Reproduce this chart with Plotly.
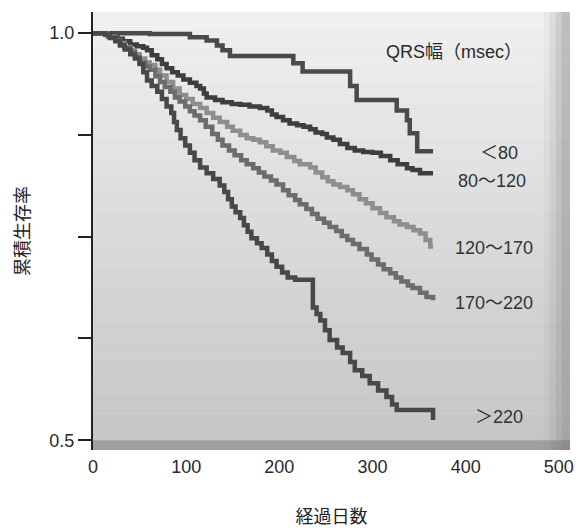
import plotly.graph_objects as go

# Kaplan-Meier step data (days, cumulative survival)
days_lt80 = [0, 61, 104, 122, 133, 139, 147, 215, 225, 276, 283, 326, 337, 340, 348, 365]
surv_lt80 = [1.0, 0.999, 0.995, 0.991, 0.985, 0.979, 0.972, 0.963, 0.953, 0.935, 0.918, 0.905, 0.893, 0.877, 0.855, 0.855]

days_80_120 = [0, 18, 26, 32, 40, 47, 54, 58, 63, 69, 74, 79, 85, 91, 97, 104, 111, 115, 119, 122, 131, 139, 149, 158, 168,
               179, 187, 192, 197, 204, 211, 219, 226, 233, 239, 246, 251, 258, 265, 273, 281, 290, 300, 309, 319, 327,
               337, 343, 351, 365]
surv_80_120 = [1.0, 0.996, 0.993, 0.990, 0.986, 0.984, 0.982, 0.979, 0.973, 0.968, 0.962, 0.957, 0.952, 0.948, 0.943,
               0.939, 0.935, 0.932, 0.926, 0.921, 0.918, 0.915, 0.913, 0.912, 0.910, 0.908, 0.905, 0.900, 0.897, 0.893,
               0.889, 0.887, 0.885, 0.882, 0.878, 0.876, 0.872, 0.869, 0.864, 0.859, 0.856, 0.854, 0.853, 0.849, 0.844,
               0.839, 0.834, 0.832, 0.828, 0.828]

days_120_170 = [0, 16, 24, 29, 34, 40, 45, 50, 56, 61, 67, 72, 79, 86, 93, 100, 107, 115, 122, 129, 136, 144, 150, 158,
                165, 172, 179, 186, 193, 201, 208, 216, 222, 233, 239, 246, 252, 258, 265, 273, 279, 286, 293, 300, 308,
                315, 323, 329, 337, 344, 351, 357, 362, 365]
surv_120_170 = [1.0, 0.996, 0.991, 0.988, 0.983, 0.979, 0.974, 0.969, 0.964, 0.961, 0.955, 0.948, 0.940, 0.932, 0.924,
                0.919, 0.913, 0.908, 0.902, 0.896, 0.891, 0.885, 0.880, 0.875, 0.871, 0.869, 0.866, 0.861, 0.856, 0.853,
                0.848, 0.843, 0.839, 0.835, 0.829, 0.823, 0.818, 0.814, 0.811, 0.807, 0.802, 0.796, 0.791, 0.785, 0.779,
                0.774, 0.769, 0.765, 0.762, 0.758, 0.754, 0.746, 0.738, 0.738]

days_170_220 = [0, 16, 24, 29, 34, 40, 45, 50, 56, 61, 67, 72, 77, 83, 88, 93, 99, 104, 109, 115, 121, 128, 134, 139,
                146, 152, 159, 165, 172, 178, 184, 191, 197, 204, 210, 217, 222, 229, 235, 241, 248, 254, 261, 267, 273,
                279, 286, 294, 299, 306, 312, 319, 325, 331, 338, 343, 351, 358, 365]
surv_170_220 = [1.0, 0.996, 0.991, 0.986, 0.982, 0.977, 0.971, 0.964, 0.959, 0.955, 0.947, 0.940, 0.934, 0.928, 0.921,
                0.916, 0.910, 0.904, 0.899, 0.893, 0.885, 0.876, 0.869, 0.862, 0.856, 0.850, 0.844, 0.839, 0.834, 0.829,
                0.824, 0.819, 0.814, 0.807, 0.801, 0.795, 0.790, 0.784, 0.778, 0.772, 0.767, 0.762, 0.757, 0.751, 0.746,
                0.741, 0.735, 0.728, 0.722, 0.716, 0.710, 0.705, 0.700, 0.695, 0.690, 0.687, 0.681, 0.676, 0.672]

days_gt220 = [0, 13, 18, 24, 29, 34, 40, 45, 50, 54, 58, 63, 69, 74, 79, 84, 87, 90, 94, 99, 104, 109, 115, 122, 129,
              136, 141, 145, 149, 153, 158, 162, 166, 170, 176, 181, 187, 192, 197, 203, 209, 217, 236, 240, 244, 249,
              254, 262, 268, 276, 281, 289, 297, 306, 315, 321, 326, 365]
surv_gt220 = [1.0, 0.998, 0.994, 0.990, 0.985, 0.980, 0.974, 0.969, 0.962, 0.952, 0.942, 0.935, 0.928, 0.919, 0.910,
              0.902, 0.891, 0.881, 0.871, 0.862, 0.853, 0.844, 0.835, 0.828, 0.821, 0.813, 0.805, 0.796, 0.787, 0.780,
              0.773, 0.764, 0.756, 0.748, 0.742, 0.736, 0.728, 0.720, 0.713, 0.706, 0.700, 0.697, 0.663, 0.655, 0.647,
              0.635, 0.623, 0.614, 0.607, 0.596, 0.586, 0.579, 0.570, 0.561, 0.553, 0.544, 0.537, 0.525]

group_labels = ["＜80", "80〜120", "120〜170", "170〜220", "＞220"]
label_days = [413, 390, 386, 386, 408]
label_surv = [0.853, 0.819, 0.736, 0.668, 0.529]
legend_title = "QRS幅（msec）"

x_ticks = [0, 100, 200, 300, 400, 500]
y_ticks = [0.5, 0.625, 0.75, 0.875, 1.0]
y_ticktext = ["0.5", "", "", "", "1.0"]

series = [
    (days_lt80, surv_lt80, "#4a4a4a"),
    (days_80_120, surv_80_120, "#3e3e3e"),
    (days_120_170, surv_120_170, "#8e8e8e"),
    (days_170_220, surv_170_220, "#6c6c6c"),
    (days_gt220, surv_gt220, "#484848"),
]

fig = go.Figure()
for (d, s, c), name in zip(series, group_labels):
    fig.add_trace(go.Scatter(x=d, y=s, mode="lines", line=dict(shape="hv", color=c, width=4.5),
                             name=name, showlegend=False))

# gray gradient background of the plot area
shapes = []
n = 24
for i in range(n):
    t = i / (n - 1)
    g = int(240 - t * 42)
    shapes.append(dict(type="rect", xref="x domain", yref="y domain",
                       x0=0, x1=1, y0=1 - (i + 1) / n, y1=1 - i / n,
                       fillcolor=f"rgb({g},{g},{g})", line=dict(width=0), layer="below"))
# darker dithered right and bottom edges
for k, a in enumerate([0.12, 0.2, 0.28, 0.36]):
    shapes.append(dict(type="rect", xref="x domain", yref="y domain", x0=0.945 + k * 0.0125, x1=1,
                       y0=0, y1=1, fillcolor=f"rgba(120,120,120,{a/2})", line=dict(width=0), layer="below"))
shapes.append(dict(type="rect", xref="x domain", yref="y domain", x0=0, x1=1, y0=0, y1=0.022,
                   fillcolor="rgba(110,110,110,0.45)", line=dict(width=0), layer="below"))

num_font = "Liberation Sans, Arial, Noto Sans CJK JP, sans-serif"
cjk_font = "Noto Sans CJK JP, sans-serif"

annotations = [dict(x=388, y=0.977, xref="x", yref="y", text=legend_title, showarrow=False,
                    xanchor="center", yanchor="middle", font=dict(size=18, color="#2a2a2a", family=num_font))]
for lab, xd, ys in zip(group_labels, label_days, label_surv):
    annotations.append(dict(x=xd, y=ys, xref="x", yref="y", text=lab, showarrow=False,
                            xanchor="left", yanchor="middle",
                            font=dict(size=18, color="#333333", family=num_font)))

# the page body has an 8px default margin, so the figure is sized/offset to compensate
fig.update_layout(
    width=574, height=520,
    margin=dict(l=85, r=12, t=4, b=78),
    paper_bgcolor="white", plot_bgcolor="#dddddd",
    font=dict(family=num_font, color="#222222"),
    shapes=shapes, annotations=annotations,
    xaxis=dict(range=[0, 512], tickvals=x_ticks, ticks="", showline=False, showgrid=False,
               zeroline=False, automargin=False, ticklabelstandoff=4,
               tickfont=dict(size=18, color="#2a2a2a"),
               title=dict(text="経過日数", font=dict(size=18, color="#222222", family=cjk_font), standoff=36)),
    yaxis=dict(range=[0.488, 1.026], tickvals=y_ticks, ticktext=y_ticktext, ticks="outside",
               ticklen=13, tickwidth=2, tickcolor="#222222", showline=True, linecolor="#222222",
               linewidth=2, showgrid=False, zeroline=False, automargin=False,
               tickfont=dict(size=18, color="#2a2a2a"),
               title=dict(text="累積生存率", font=dict(size=18, color="#222222", family=cjk_font), standoff=16)),
)

fig.write_html("out.html")
